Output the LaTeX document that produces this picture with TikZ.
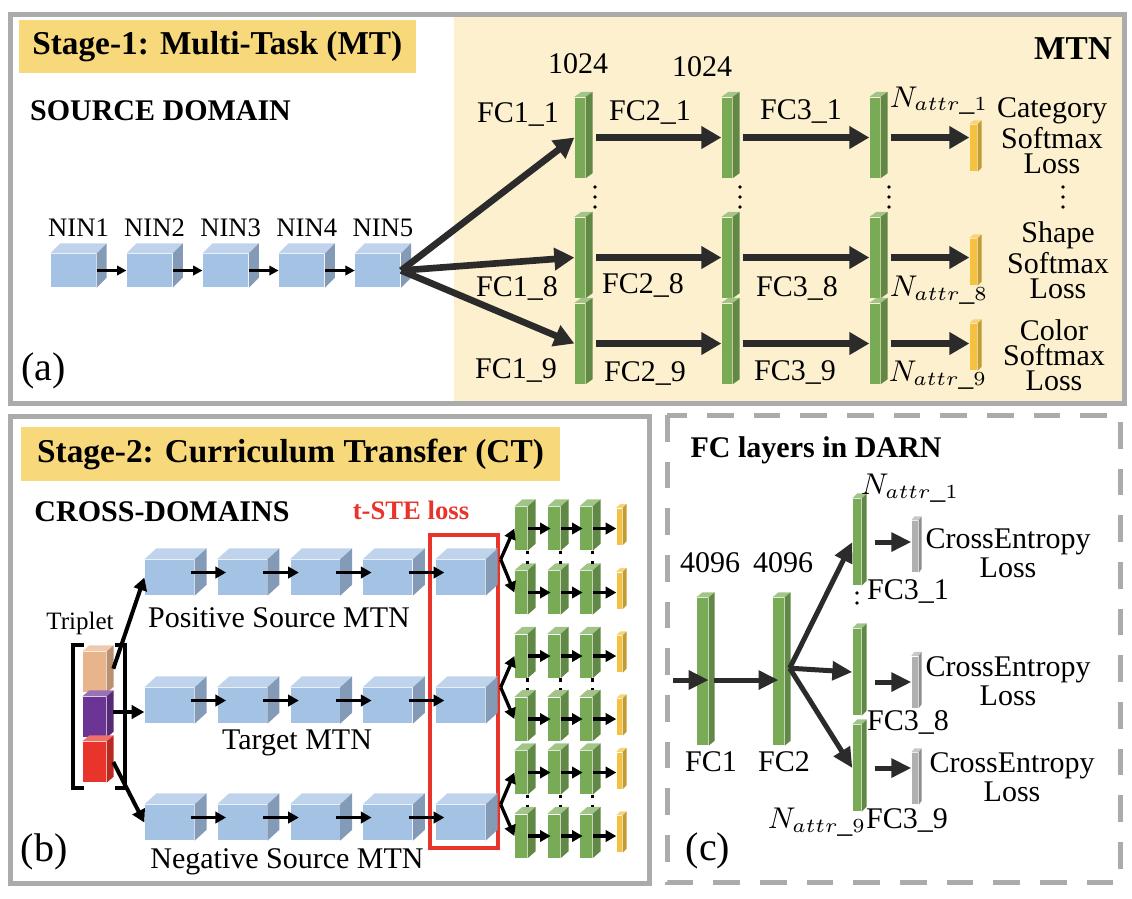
\documentclass[tikz,border=0pt]{standalone}
\usepackage{fontspec}
\setmainfont{Liberation Serif}
\usetikzlibrary{arrows.meta}

\definecolor{frameGray}{HTML}{ABABAB}
\definecolor{labelYellow}{HTML}{F7D97B}
\definecolor{mtnBg}{HTML}{FCF0CF}
\definecolor{ninBlue}{HTML}{A4C2E4}
\definecolor{fcGreen}{HTML}{79AA55}
\definecolor{lossYellow}{HTML}{F4C140}
\definecolor{lossGray}{HTML}{B0B0B0}
\definecolor{arrowDark}{HTML}{2B2B2B}
\definecolor{steRed}{HTML}{E8342A}
\definecolor{tripPeach}{HTML}{E8B48C}
\definecolor{tripPurple}{HTML}{6B3595}

% top and side faces of a block: node, dx, dy, colour
\newcommand{\faces}[4]{%
    \fill[#4!70!white] (#1.north west) -- ++(#2,-#3) -- ([shift={(#2,-#3)}]#1.north east) -- (#1.north east) -- cycle;
    \fill[#4!80!black] (#1.north east) -- ++(#2,-#3) -- ([shift={(#2,-#3)}]#1.south east) -- (#1.south east) -- cycle;
}

\tikzset{
    frame/.style = {draw=frameGray, line width=1.5pt},
    stagebox/.style = {
        fill=labelYellow,
        inner sep=0pt,
        font=\bfseries\fontsize{10}{12}\selectfont
    },
    head/.style = {inner sep=0pt, font=\bfseries\fontsize{9}{11}\selectfont},
    lbl/.style = {inner sep=0pt, align=center, font=\fontsize{9}{7.5}\selectfont},
    tag/.style = {inner sep=0pt, font=\fontsize{12}{14}\selectfont},
    dotcol/.style = {line width=1.1pt, line cap=round, dash pattern=on 0pt off 3pt},
    ninbox/.style = {fill=ninBlue, inner sep=0pt, minimum width=13.5pt, minimum height=9.9pt},
    mtnbox/.style = {fill=ninBlue, inner sep=0pt, minimum width=14.7pt, minimum height=10.5pt},
    fcbar/.style = {fill=fcGreen, inner sep=0pt, minimum width=3pt, minimum height=24pt},
    lossbar/.style = {fill=lossYellow, inner sep=0pt, minimum width=2.1pt, minimum height=13.8pt},
    minibar/.style = {fill=fcGreen, inner sep=0pt, minimum width=3.6pt, minimum height=12.9pt},
    miniloss/.style = {fill=lossYellow, inner sep=0pt, minimum width=1.5pt, minimum height=10.8pt},
    tripbox/.style = {inner sep=0pt, minimum width=6.9pt, minimum height=12pt},
    darnbar/.style = {fill=fcGreen, inner sep=0pt, minimum width=3.3pt, minimum height=44.1pt},
    outbar/.style = {fill=fcGreen, inner sep=0pt, minimum width=2.4pt, minimum height=25.8pt},
    cebar/.style = {fill=lossGray, inner sep=0pt, minimum width=1.8pt, minimum height=15.3pt},
    >={Triangle[length=6pt,width=6.5pt]},
    bigarrow/.style = {draw=arrowDark, line width=2pt, ->},
    smallarrow/.style = {draw=black, line width=0.75pt, -{Triangle[length=2.8pt,width=2.8pt]}},
    midarrow/.style = {draw=black, line width=1pt, -{Triangle[length=3.2pt,width=3.4pt]}},
    triparrow/.style = {draw=black, line width=1.2pt, -{Triangle[length=3.8pt,width=4pt]}},
    darnarrow/.style = {draw=arrowDark, line width=1.5pt, -{Triangle[length=6pt,width=5.5pt]}},
}

\begin{document}
\begin{tikzpicture}[x=0.3pt, y=-0.3pt]
    \useasboundingbox (0,0) rectangle (1132,898);

    % (a) multi-task stage
    \fill[mtnBg] (454,17) rectangle (1121.5,400.5);
    \draw[frame] (10,14.5) rectangle (1124,403);
    \node[stagebox, minimum width=119.2pt, minimum height=15.9pt] (stage1) at (217.3,46.5) {Stage-1: Multi-Task (MT)};
    \node[head] (srcdom) at (160.5,111) {SOURCE DOMAIN};
    \node[head, font=\bfseries\fontsize{10}{12}\selectfont] (mtn) at (1073,49) {MTN};
    \node[tag] (taga) at (43.5,371) {(a)};

    \foreach \i [evaluate=\i as \cx using 73.5+76.1*(\i-1)] in {1,...,5} {
        \node[ninbox] (nin\i) at (\cx,270.5) {};
        \faces{nin\i}{10}{10}{ninBlue}
        \node[lbl, font=\fontsize{8}{9}\selectfont] (ninlbl\i) at (\cx+5,228) {NIN\i};
    }
    \foreach \i [count=\j from 2] in {1,...,4}
        \path[draw, smallarrow] (nin\i.east) -- (nin\j.west);

    \foreach \r/\ry/\ly in {1/137.5/148, 8/257.5/262, 9/343.5/347} {
        \foreach \c/\cx in {1/580, 2/727, 3/875} {
            \node[fcbar] (fc\c\r) at (\cx,\ry) {};
            \faces{fc\c\r}{7}{5}{fcGreen}
        }
        \node[lossbar] (loss\r) at (973.5,\ly) {};
        \faces{loss\r}{4}{4}{lossYellow}
        \path[draw, bigarrow] (nin5.east) -- (fc1\r.west);
        \path[draw, bigarrow] ([xshift=3pt]fc1\r.east) -- (fc2\r.west);
        \path[draw, bigarrow] ([xshift=3pt]fc2\r.east) -- (fc3\r.west);
        \path[draw, bigarrow] ([xshift=3pt]fc3\r.east) -- (fc3\r.east -| loss\r.west);
    }

    \node[lbl] (dim1) at (578,64) {1024};
    \node[lbl] (dim2) at (702,67) {1024};
    \node[lbl] (lfc11) at (518,114) {FC1\_1};
    \node[lbl] (lfc21) at (650,112) {FC2\_1};
    \node[lbl] (lfc31) at (801,111) {FC3\_1};
    \node[lbl] (natt1) at (939,101) {$N_{attr\_1}$};
    \node[lbl] (task1) at (1052,136) {Category\\Softmax\\Loss};
    \node[lbl] (lfc18) at (517,288) {FC1\_8};
    \node[lbl] (lfc28) at (643,285) {FC2\_8};
    \node[lbl] (lfc38) at (797,288) {FC3\_8};
    \node[lbl] (natt8) at (939,290) {$N_{attr\_8}$};
    \node[lbl] (task8) at (1058,260) {Shape\\Softmax\\Loss};
    \node[lbl] (lfc19) at (516,370) {FC1\_9};
    \node[lbl] (lfc29) at (645,373) {FC2\_9};
    \node[lbl] (lfc39) at (795,372) {FC3\_9};
    \node[lbl] (natt9) at (938,375) {$N_{attr\_9}$};
    \node[lbl] (task9) at (1054,355) {Color\\Softmax\\Loss};
    \foreach \dx in {595, 740, 889, 1063}
        \draw[dotcol] (\dx,187) -- (\dx,208);

    % (b) curriculum transfer stage
    \draw[frame] (10,416.5) rectangle (649,883.5);
    \node[stagebox, minimum width=161.7pt, minimum height=16.2pt] (stage2) at (290.5,454) {Stage-2: Curriculum Transfer (CT)};
    \node[head] (crossdom) at (162,512) {CROSS-DOMAINS};
    \node[head, text=steRed, font=\bfseries\fontsize{8}{9}\selectfont] (tste) at (411,510) {t-STE loss};
    \node[tag] (tagb) at (44,852) {(b)};
    \draw[steRed, line width=1.2pt] (430,535) rectangle (498,848);

    \foreach \row/\ry in {P/577.5, T/705.5, N/822.5} {
        \foreach \i [evaluate=\i as \cx using 169.5+72.75*(\i-1)] in {1,...,5} {
            \node[mtnbox] (c\row\i) at (\cx,\ry) {};
            \faces{c\row\i}{12}{11}{ninBlue}
        }
        \foreach \i [count=\j from 2] in {1,...,4}
            \path[draw, midarrow] ([xshift=-1.2pt,yshift=1.5pt]c\row\i.east) -- ([xshift=2.7pt,yshift=1.5pt]c\row\j.west);
    }
    \node[lbl] (lpos) at (279,618) {Positive Source MTN};
    \node[lbl] (ltgt) at (297,743) {Target MTN};
    \node[lbl] (lneg) at (287,862) {Negative Source MTN};

    \foreach \row/\ry in {Pa/528.5, Pb/592.5, Ta/656, Tb/719, Na/772.5, Nb/836} {
        \foreach \c/\cx in {1/521, 2/554, 3/586} {
            \node[minibar] (m\row\c) at (\cx,\ry) {};
            \faces{m\row\c}{8}{7}{fcGreen}
        }
        \node[miniloss] (y\row) at (619.5,\ry-2) {};
        \faces{y\row}{4}{4}{lossYellow}
        \path[draw, midarrow] (m\row1.east) -- ([xshift=1pt]m\row2.west);
        \path[draw, midarrow] (m\row2.east) -- ([xshift=1pt]m\row3.west);
        \path[draw, midarrow] (m\row3.east) -- (m\row3.east -| y\row.west);
    }
    \foreach \row/\sa/\sb in {P/Pa/Pb, T/Ta/Tb, N/Na/Nb} {
        \coordinate (fan\row) at ([xshift=4.5pt]c\row5.north east);
        \path[draw, midarrow] (fan\row) -- (m\sa1.west);
        \path[draw, midarrow] (fan\row) -- (m\sb1.west);
        \foreach \c in {1,2,3}
            \draw[dotted, line width=1pt] ([xshift=2pt]m\sa\c.south) -- ([xshift=2pt,yshift=2pt]m\sb\c.north);
    }

    % triplet input
    \node[lbl, font=\fontsize{7.5}{9}\selectfont] (trip) at (80,623) {Triplet};
    \node[tripbox, fill=tripPeach] (tpos) at (94.5,672) {};
    \faces{tpos}{7}{6}{tripPeach}
    \node[tripbox, fill=tripPurple] (ttgt) at (94.5,717) {};
    \faces{ttgt}{7}{6}{tripPurple}
    \node[tripbox, fill=steRed] (tneg) at (94.5,762) {};
    \faces{tneg}{7}{6}{steRed}
    \draw[line width=1.2pt] (84,645) -- (73,645) -- (73,788) -- (84,788);
    \draw[line width=1.2pt] (115,645) -- (125,645) -- (125,788) -- (115,788);
    \path[draw, triparrow] ([xshift=2pt,yshift=1pt]tpos.east) -- (cP1.west);
    \path[draw, triparrow] ([xshift=2pt,yshift=1.5pt]ttgt.east) -- ([yshift=1.5pt]ttgt.east -| cT1.west);
    \path[draw, triparrow] ([xshift=2pt]tneg.east) -- (cN1.west);

    % (c) FC layers
    \draw[frame, dash pattern=on 8pt off 6pt] (667,415) rectangle (1120,882);
    \node[head] (darn) at (816,450) {FC layers in DARN};
    \node[tag] (tagc) at (708,851) {(c)};
    \node[darnbar] (dfc1) at (702.5,671.5) {};
    \faces{dfc1}{6}{5}{fcGreen}
    \node[darnbar] (dfc2) at (778.5,671.5) {};
    \faces{dfc2}{6}{5}{fcGreen}
    \node[lbl] (dd1) at (710,563) {4096};
    \node[lbl] (dd2) at (783,563) {4096};
    \node[lbl] (ldfc1) at (711,762) {FC1};
    \node[lbl] (ldfc2) at (784,762) {FC2};

    \coordinate (din) at (673,680);
    \path[draw, darnarrow] (din) -- (din -| dfc1.east);
    \path[draw, darnarrow, shorten <=1.5pt] (din -| dfc1.east) -- (din -| dfc2.center);
    \coordinate (dfan) at ([xshift=1.5pt,yshift=1pt]dfc2.east);
    \foreach \r/\ry/\gy/\ay in {1/542/546.5/542, 8/672/682/682, 9/768/778.5/768} {
        \node[outbar] (dfc3\r) at (857,\ry) {};
        \faces{dfc3\r}{5}{5}{fcGreen}
        \node[cebar] (ce\r) at (915,\gy) {};
        \faces{ce\r}{3}{4}{lossGray}
        \path[draw, darnarrow] (dfan) -- (dfc3\r.west);
        \coordinate (ca\r) at (875,\ay);
        \path[draw, darnarrow] (ca\r) -- (ca\r -| ce\r.west);
    }
    \node[lbl] (cnatt1) at (910,488) {$N_{attr\_1}$};
    \node[lbl] (cnatt9) at (817,822) {$N_{attr\_9}$};
    \node[lbl] (ldfc31) at (908,591) {FC3\_1};
    \node[lbl] (ldfc38) at (908,722) {FC3\_8};
    \node[lbl] (ldfc39) at (907,820) {FC3\_9};
    \node[lbl] (celoss1) at (1008,553) {CrossEntropy\\Loss};
    \node[lbl] (celoss8) at (1008,681) {CrossEntropy\\Loss};
    \node[lbl] (celoss9) at (1012,777) {CrossEntropy\\Loss};
    \draw[dotcol] (857,593) -- (857,612);
\end{tikzpicture}
\end{document}
